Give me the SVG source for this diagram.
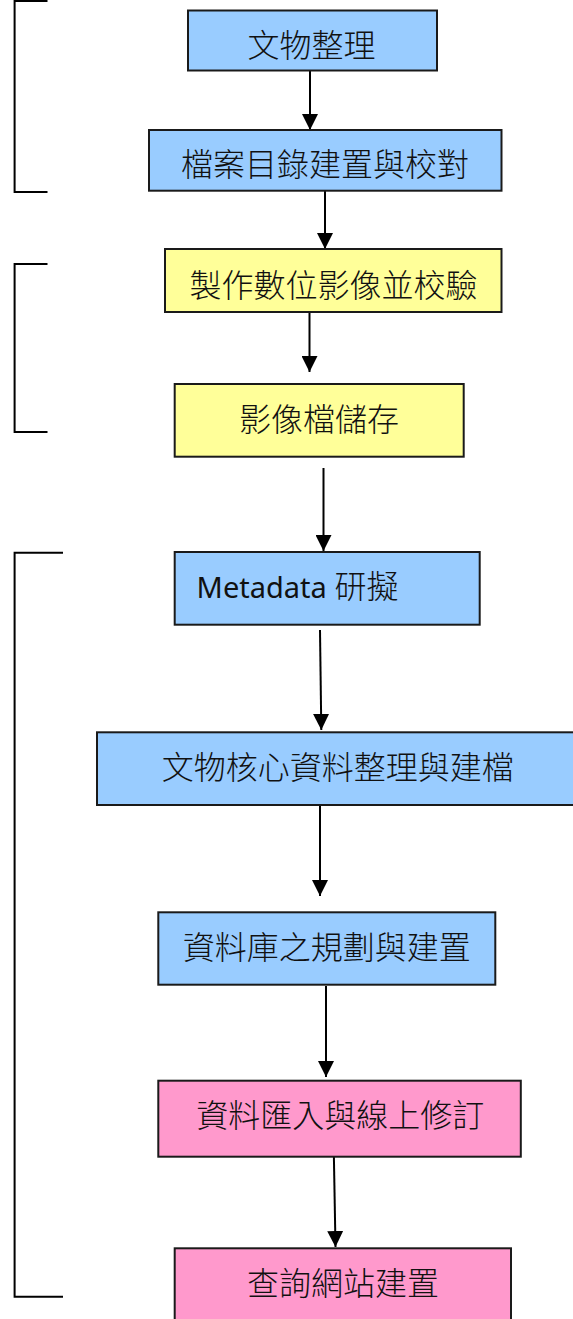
<svg xmlns="http://www.w3.org/2000/svg" width="573" height="1319" viewBox="0 0 573 1319">
<style>
.box{stroke:#1a1a1a;stroke-width:2}
.blue{fill:#99ccff}
.yellow{fill:#ffff99}
.pink{fill:#ff99cc}
.lbl{font-family:"Noto Sans CJK TC","Noto Sans",sans-serif;font-size:32px;font-weight:300;fill:#111;text-anchor:middle}
.con{stroke:#000;stroke-width:2;fill:none}
.brk{stroke:#000;stroke-width:2;fill:none}
</style>
<defs>
<marker id="ah" viewBox="0 0 16 16" refX="16" refY="8" markerWidth="16" markerHeight="16" markerUnits="userSpaceOnUse" orient="auto">
<path d="M0,0 L16,8 L0,16 Z" fill="#000"/>
</marker>
</defs>
<rect width="573" height="1319" fill="#fff"/>
<g id="brackets">
<path class="brk" d="M47.5,1 H14.6 V192 H47.5"/>
<path class="brk" d="M47.5,264 H14.6 V432 H47.5"/>
<path class="brk" d="M63,552.7 H14.6 V1296.7 H63"/>
</g>
<g id="connectors">
<line class="con" x1="310" y1="71" x2="310" y2="130" marker-end="url(#ah)"/>
<line class="con" x1="325" y1="191" x2="325" y2="249" marker-end="url(#ah)"/>
<line class="con" x1="309.5" y1="312" x2="309.5" y2="372" marker-end="url(#ah)"/>
<line class="con" x1="323.5" y1="468" x2="323.5" y2="551" marker-end="url(#ah)"/>
<line class="con" x1="320" y1="630" x2="321.3" y2="730" marker-end="url(#ah)"/>
<line class="con" x1="320" y1="800" x2="320" y2="896" marker-end="url(#ah)"/>
<line class="con" x1="326" y1="986" x2="326" y2="1077" marker-end="url(#ah)"/>
<line class="con" x1="333.7" y1="1146" x2="335.5" y2="1247" marker-end="url(#ah)"/>
</g>
<g id="n1"><rect class="box blue" x="188" y="10.5" width="249" height="60"/><text class="lbl" x="311.5" y="57">文物整理</text></g>
<g id="n2"><rect class="box blue" x="149" y="130" width="352.5" height="60.7"/><text class="lbl" x="325" y="176">檔案目錄建置與校對</text></g>
<g id="n3"><rect class="box yellow" x="165" y="249" width="336.5" height="63"/><text class="lbl" x="333.5" y="297">製作數位影像並校驗</text></g>
<g id="n4"><rect class="box yellow" x="174.7" y="384" width="289" height="72.7"/><text class="lbl" x="319" y="431">影像檔儲存</text></g>
<g id="n5"><rect class="box blue" x="174.7" y="552" width="305" height="72.7"/><text class="lbl" x="196.6" y="598" style="text-anchor:start"><tspan style="font-family:'Noto Sans',sans-serif;font-size:29px;font-weight:400">Metadata </tspan><tspan>研擬</tspan></text></g>
<g id="n6"><rect class="box blue" x="97" y="732.3" width="490" height="72.7"/><text class="lbl" x="337.8" y="779">文物核心資料整理與建檔</text></g>
<g id="n7"><rect class="box blue" x="158.3" y="912.3" width="337" height="72.4"/><text class="lbl" x="326.8" y="959">資料庫之規劃與建置</text></g>
<g id="n8"><rect class="box pink" x="158.3" y="1080.7" width="362.5" height="76"/><text class="lbl" x="340.3" y="1127">資料匯入與線上修訂</text></g>
<g id="n9"><rect class="box pink" x="174.7" y="1248.3" width="336.3" height="100"/><text class="lbl" x="343" y="1295">查詢網站建置</text></g>
</svg>
